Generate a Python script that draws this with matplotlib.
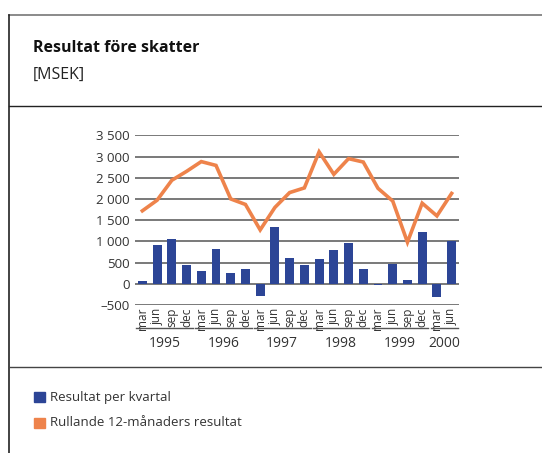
import numpy as np
import matplotlib
matplotlib.use('Agg')
import matplotlib.pyplot as plt
from matplotlib.patches import Rectangle
from matplotlib.lines import Line2D

plt.rcParams['font.family'] = ['Open Sans', 'DejaVu Sans']

# data
months = ['mar', 'jun', 'sep', 'dec'] * 5 + ['mar', 'jun']
years = ['1995', '1996', '1997', '1998', '1999', '2000']
kvartal = [70, 920, 1060, 450, 290, 820, 250, 340,
           -280, 1340, 610, 450, 590, 800, 960, 340,
           -30, 470, 90, 1210, -300, 1000]
rullande = [1720, 1970, 2440, 2650, 2880, 2790, 2000, 1870,
            1270, 1800, 2150, 2260, 3110, 2580, 2950, 2870,
            2250, 1950, 980, 1900, 1600, 2130]

blue = '#2c4596'
orange = '#ee834b'
txt = '#333333'

fig = plt.figure(figsize=(5.42, 4.53), dpi=100)

# frame around the figure
W, H = 542, 453
def fx(px): return px / W
def fy(py): return 1 - py / H
fig.add_artist(Line2D([fx(9), 1], [fy(15), fy(15)], color='#777777', lw=1.2))
fig.add_artist(Line2D([fx(9), fx(9)], [fy(15), 0], color='#222222', lw=1.2))
fig.add_artist(Line2D([fx(9), 1], [fy(106), fy(106)], color='#222222', lw=1.0))
fig.add_artist(Line2D([fx(9), 1], [fy(367), fy(367)], color='#444444', lw=1.0))

fig.text(fx(33), fy(48), 'Resultat före skatter', fontsize=11.5, fontweight='bold',
         color='#111111', va='center')
fig.text(fx(33), fy(75), '[MSEK]', fontsize=11.5, color='#222222', va='center')

ax = fig.add_axes([fx(135), fy(305), fx(459) - fx(135), fy(135.3) - fy(305)])
x = np.arange(len(kvartal))
ax.bar(x, kvartal, width=0.6, color=blue, zorder=3)
ax.plot(x, rullande, color=orange, lw=2.6, zorder=4, solid_joinstyle='miter')

ax.set_xlim(-0.5, len(kvartal) - 0.5)
ax.set_ylim(-500, 3500)
ax.set_yticks(np.arange(-500, 3501, 500))
ax.set_yticklabels([('%d' % v).replace('-', '\u2013') if abs(v) < 1000
                    else '%d %03d' % (v // 1000, v % 1000) for v in range(-500, 3501, 500)],
                   fontsize=9.5, color=txt)
ax.yaxis.grid(True, color='#555555', lw=1.1, zorder=1)
for s in ax.spines.values():
    s.set_visible(False)
ax.tick_params(axis='y', length=0, pad=4)
ax.set_xticks(x)
ax.set_xticklabels(months, rotation=90, fontsize=8.5, color=txt)
ax.tick_params(axis='x', length=0, pad=2)

# year groups
tr = ax.get_xaxis_transform()
for i, yr in enumerate(years):
    start = i * 4
    end = min(start + 3, len(kvartal) - 1)
    ax.add_line(Line2D([start - 0.42, end + 0.42], [-0.135, -0.135], transform=tr,
                       color='#555555', lw=1.0, clip_on=False))
    ax.text((start + end) / 2, -0.225, yr, transform=tr, ha='center', va='center',
            fontsize=10, color=txt)

# legend
fig.add_artist(Rectangle((fx(34), fy(402)), fx(45) - fx(34), fy(392) - fy(402),
                         color=blue, transform=fig.transFigure))
fig.add_artist(Rectangle((fx(34), fy(428)), fx(45) - fx(34), fy(418) - fy(428),
                         color=orange, transform=fig.transFigure))
fig.text(fx(50), fy(397), 'Resultat per kvartal', fontsize=9.5, color=txt, va='center')
fig.text(fx(50), fy(423), 'Rullande 12-månaders resultat', fontsize=9.5, color=txt, va='center')

fig.savefig('out.png', dpi=100)
